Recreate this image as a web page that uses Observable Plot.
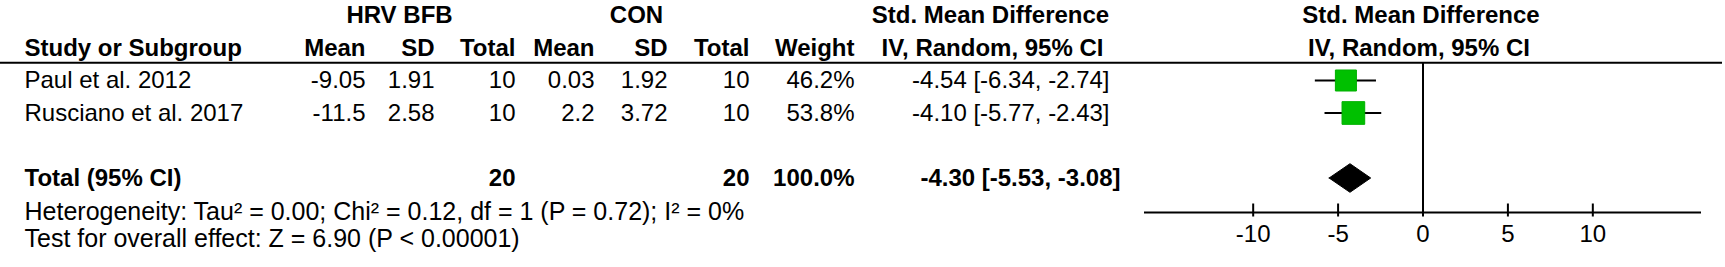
<!DOCTYPE html>
<html>
<head>
<meta charset="utf-8">
<script src="https://cdn.jsdelivr.net/npm/d3@7"></script>
<script src="https://cdn.jsdelivr.net/npm/@observablehq/plot@0.6"></script>
<style>
  html, body { margin: 0; padding: 0; background: #fff; }
  #chart svg { display: block; }
</style>
</head>
<body>
<div id="chart"></div>
<script>
// ---------------- data ----------------
const studies   = ["Paul et al. 2012", "Rusciano et al. 2017"];
const expMean   = [-9.05, -11.5];
const expSD     = [1.91, 2.58];
const expTotal  = [10, 10];
const conMean   = [0.03, 2.2];
const conSD     = [1.92, 3.72];
const conTotal  = [10, 10];
const weights   = [46.2, 53.8];
const smd       = [-4.54, -4.10];
const ciLow     = [-6.34, -5.77];
const ciHigh    = [-2.74, -2.43];

const totalLabel  = "Total (95% CI)";
const totalExp    = 20;
const totalCon    = 20;
const totalWeight = 100.0;
const pooledSmd   = -4.30;
const pooledLow   = -5.53;
const pooledHigh  = -3.08;

const groupHeaders  = ["HRV BFB", "CON", "Std. Mean Difference"];
const columnHeaders = ["Study or Subgroup", "Mean", "SD", "Total", "Mean", "SD", "Total", "Weight", "IV, Random, 95% CI"];
const plotHeaders   = ["Std. Mean Difference", "IV, Random, 95% CI"];
const footnotes = [
  "Heterogeneity: Tau\u00B2 = 0.00; Chi\u00B2 = 0.12, df = 1 (P = 0.72); I\u00B2 = 0%",
  "Test for overall effect: Z = 6.90 (P < 0.00001)"
];
const xTicks = [-10, -5, 0, 5, 10];
const xExtent = [-16.4, 16.4];

// ---------------- layout (row units / pixel offsets) ----------------
const FONT = "'Liberation Sans', Arial, Helvetica, sans-serif";
const FS = 24;
const FS_FOOT = 25;
const rowOf = {group: -2, header: -1, total: 3, footer: 4};
const headerLineRow = -0.55;
const axisRow = 4.06;
// column edges in px from the left of the figure
const col = {study: 24, eMean: 365, eSD: 434, eTot: 515, cMean: 594, cSD: 667, cTot: 749, weight: 854, ci: 1109, ciTotal: 1120};
const groupCenters = [399, 636, 990];

// ---------------- derived tables ----------------
const studyRows = studies.map((name, i) => ({
  name, row: i,
  expMean: expMean[i], expSD: expSD[i], expTotal: expTotal[i],
  conMean: conMean[i], conSD: conSD[i], conTotal: conTotal[i],
  weight: weights[i], smd: smd[i], lo: ciLow[i], hi: ciHigh[i]
}));
const fmt2 = v => v.toFixed(2);
const ciText = (e, l, h) => `${fmt2(e)} [${fmt2(l)}, ${fmt2(h)}]`;
const diamond = [
  {x: pooledLow,  y: rowOf.total},
  {x: pooledSmd,  y: rowOf.total - 0.44},
  {x: pooledHigh, y: rowOf.total},
  {x: pooledSmd,  y: rowOf.total + 0.44},
  {x: pooledLow,  y: rowOf.total}
];

const textBase = {fontFamily: FONT, fontSize: FS, fill: "#000", frameAnchor: "left", lineAnchor: "middle"};
function colText(rows, value, dx, anchor, extra = {}) {
  return Plot.text(rows, {...textBase, y: "row", text: value, dx, textAnchor: anchor, ...extra});
}

const headerRows = [{row: rowOf.header}];
const groupRows  = [{row: rowOf.group}];
const totalRows  = [{row: rowOf.total}];
const bold = {fontWeight: "bold"};

const plot = Plot.plot({
  width: 1725,
  height: 267,
  marginLeft: 0, marginRight: 3, marginTop: 0, marginBottom: 0,
  style: {fontFamily: FONT, background: "#fff"},
  x: {domain: xExtent, range: [1144, 1701], axis: null},
  y: {domain: [0, 1], range: [80, 112.5], axis: null},
  r: {type: "sqrt", domain: [0, 100], range: [0, 17.45]},
  marks: [
    // header rule
    Plot.ruleY([headerLineRow], {stroke: "#000", strokeWidth: 2}),
    // zero line
    Plot.ruleX([0], {y1: headerLineRow, y2: axisRow, stroke: "#000", strokeWidth: 2}),
    // axis line & ticks
    Plot.ruleY([axisRow], {x1: xExtent[0], x2: xExtent[1], stroke: "#000", strokeWidth: 2}),
    Plot.ruleX(xTicks, {x: d => d, y1: axisRow - 0.26, y2: axisRow + 0.14, stroke: "#000", strokeWidth: 2}),
    Plot.text(xTicks, {x: d => d, y: axisRow, text: d => String(d), dy: 22, fontFamily: FONT, fontSize: FS, fill: "#000", lineAnchor: "middle"}),
    // CI whiskers & boxes
    Plot.ruleY(studyRows, {y: "row", x1: "lo", x2: "hi", stroke: "#000", strokeWidth: 2}),
    Plot.dot(studyRows, {x: "smd", y: "row", r: "weight", symbol: "square", fill: "#00c000", stroke: "#00b000", strokeWidth: 1}),
    // pooled diamond
    Plot.line(diamond, {x: "x", y: "y", fill: "#000", stroke: "#000", strokeWidth: 1, curve: "linear"}),
    // group headers
    ...groupHeaders.map((t, k) => Plot.text(groupRows, {...textBase, ...bold, y: "row", text: () => t, dx: groupCenters[k], textAnchor: "middle"})),
    Plot.text(groupRows, {...textBase, ...bold, frameAnchor: undefined, x: () => 0, y: "row", text: () => plotHeaders[0], dx: -2, textAnchor: "middle"}),
    // column headers
    colText(headerRows, () => columnHeaders[0], col.study, "start", bold),
    colText(headerRows, () => columnHeaders[1], col.eMean, "end", bold),
    colText(headerRows, () => columnHeaders[2], col.eSD, "end", bold),
    colText(headerRows, () => columnHeaders[3], col.eTot, "end", bold),
    colText(headerRows, () => columnHeaders[4], col.cMean, "end", bold),
    colText(headerRows, () => columnHeaders[5], col.cSD, "end", bold),
    colText(headerRows, () => columnHeaders[6], col.cTot, "end", bold),
    colText(headerRows, () => columnHeaders[7], col.weight, "end", bold),
    colText(headerRows, () => columnHeaders[8], groupCenters[2] + 2, "middle", bold),
    Plot.text(headerRows, {...textBase, ...bold, frameAnchor: undefined, x: () => 0, y: "row", text: () => plotHeaders[1], dx: -4, textAnchor: "middle"}),
    // study rows
    colText(studyRows, "name", col.study, "start"),
    colText(studyRows, d => String(d.expMean), col.eMean, "end"),
    colText(studyRows, d => String(d.expSD), col.eSD, "end"),
    colText(studyRows, d => String(d.expTotal), col.eTot, "end"),
    colText(studyRows, d => String(d.conMean), col.cMean, "end"),
    colText(studyRows, d => String(d.conSD), col.cSD, "end"),
    colText(studyRows, d => String(d.conTotal), col.cTot, "end"),
    colText(studyRows, d => d.weight.toFixed(1) + "%", col.weight, "end"),
    colText(studyRows, d => ciText(d.smd, d.lo, d.hi), col.ci, "end"),
    // total row
    colText(totalRows, () => totalLabel, col.study, "start", bold),
    colText(totalRows, () => String(totalExp), col.eTot, "end", bold),
    colText(totalRows, () => String(totalCon), col.cTot, "end", bold),
    colText(totalRows, () => totalWeight.toFixed(1) + "%", col.weight, "end", bold),
    colText(totalRows, () => ciText(pooledSmd, pooledLow, pooledHigh), col.ciTotal, "end", bold),
    // footnotes
    Plot.text(footnotes, {...textBase, fontSize: FS_FOOT, y: () => rowOf.footer, text: d => d, dx: col.study, dy: 1, textAnchor: "start", filter: (d, i) => i === 0}),
    Plot.text(footnotes, {...textBase, fontSize: FS_FOOT, y: () => rowOf.footer, text: d => d, dx: col.study, dy: 28, textAnchor: "start", filter: (d, i) => i === 1})
  ]
});
document.getElementById("chart").appendChild(plot);
</script>
</body>
</html>
